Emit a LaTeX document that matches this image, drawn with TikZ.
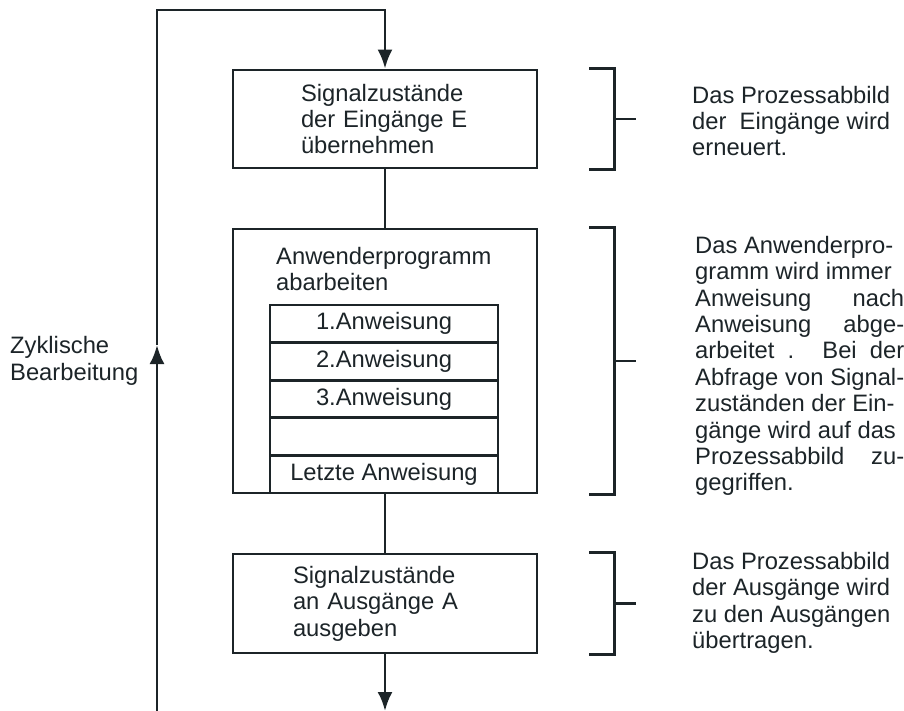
\documentclass[tikz,border=0pt]{standalone}
\usepackage{fontspec}
\setmainfont{Liberation Sans}
\usetikzlibrary{arrows.meta}
\definecolor{ink}{RGB}{28,36,40}
\begin{document}
\begin{tikzpicture}
    \tikzset{x=1pt,y=-1pt,every path/.style={>={Latex[length=19pt,width=15pt]}},
      every node/.style={font=\fontsize{23.75}{26.4}\selectfont,text=ink,inner sep=0pt},
      box/.style={draw=ink,line width=2.8pt,minimum width=304pt,align=left},
      row/.style={draw=ink,line width=2.8pt,minimum width=228pt,minimum height=37.6pt},
      line/.style={draw=ink,line width=2.8pt}}
    \useasboundingbox (0,0) rectangle (904,711);
      \node [box,text width=168pt,minimum height=98pt] (inbox) at (385,119) {Signalzustände\\der Eingänge E\\übernehmen};
      \node [box,minimum height=264pt] (prog) at (385,361) {};
      \node [anchor=north west,align=left] (progtitle) at (276,247) {Anwenderprogramm\\abarbeiten};
      \foreach \t [count=\i] in {1.Anweisung,2.Anweisung,3.Anweisung,{},Letzte Anweisung}
       { \node [row] (row\i) at (384,286.2+37.6*\i) {\t};
       }
      \node [box,text width=184pt,minimum height=99pt] (outbox) at (385,603.5) {Signalzustände\\an Ausgänge A\\ausgeben};

      \coordinate (loopbot) at (157,711);
      \coordinate (loopmid) at (157,345);
      \coordinate (looptop) at (157,10);
      \coordinate (outend) at (385,711);
      \draw [line,->] (loopbot) -- (loopmid);
      \draw [line,->] (loopmid) -- (looptop) -| (inbox.north);
      \draw [line] (inbox) -- (prog);
      \draw [line] (prog) -- (outbox);
      \draw [line,->] (outbox) -- (outend);

      \foreach \b in {inbox,prog,outbox}
       {\draw [line] ([xshift=51pt]\b.north east) -| ([xshift=76pt]\b.east) |- ([xshift=51pt]\b.south east);
        \draw [line] ([xshift=76pt]\b.east) -- ++(22,0);}

      \node [anchor=west,align=left] (note1) at (692,121) {Das Prozessabbild\\der~ Eingänge wird\\erneuert.};
      \node [anchor=west,text width=209pt,align=justify] (note2) at (695,366) {Das Anwenderpro-\\gramm wird immer\\Anweisung nach\linebreak Anweisung abge-\linebreak arbeitet . Bei der\linebreak Abfrage von Signal-\linebreak zuständen der Ein-\\gänge wird auf das\\Prozessabbild zu-\linebreak gegriffen.};
      \node [anchor=west,align=left] (note3) at (692,603) {Das Prozessabbild\\der Ausgänge wird\\zu den Ausgängen\\übertragen.};
      \node [anchor=west,align=left] (cycle) at (10,361) {Zyklische\\Bearbeitung};
\end{tikzpicture}
\end{document}
